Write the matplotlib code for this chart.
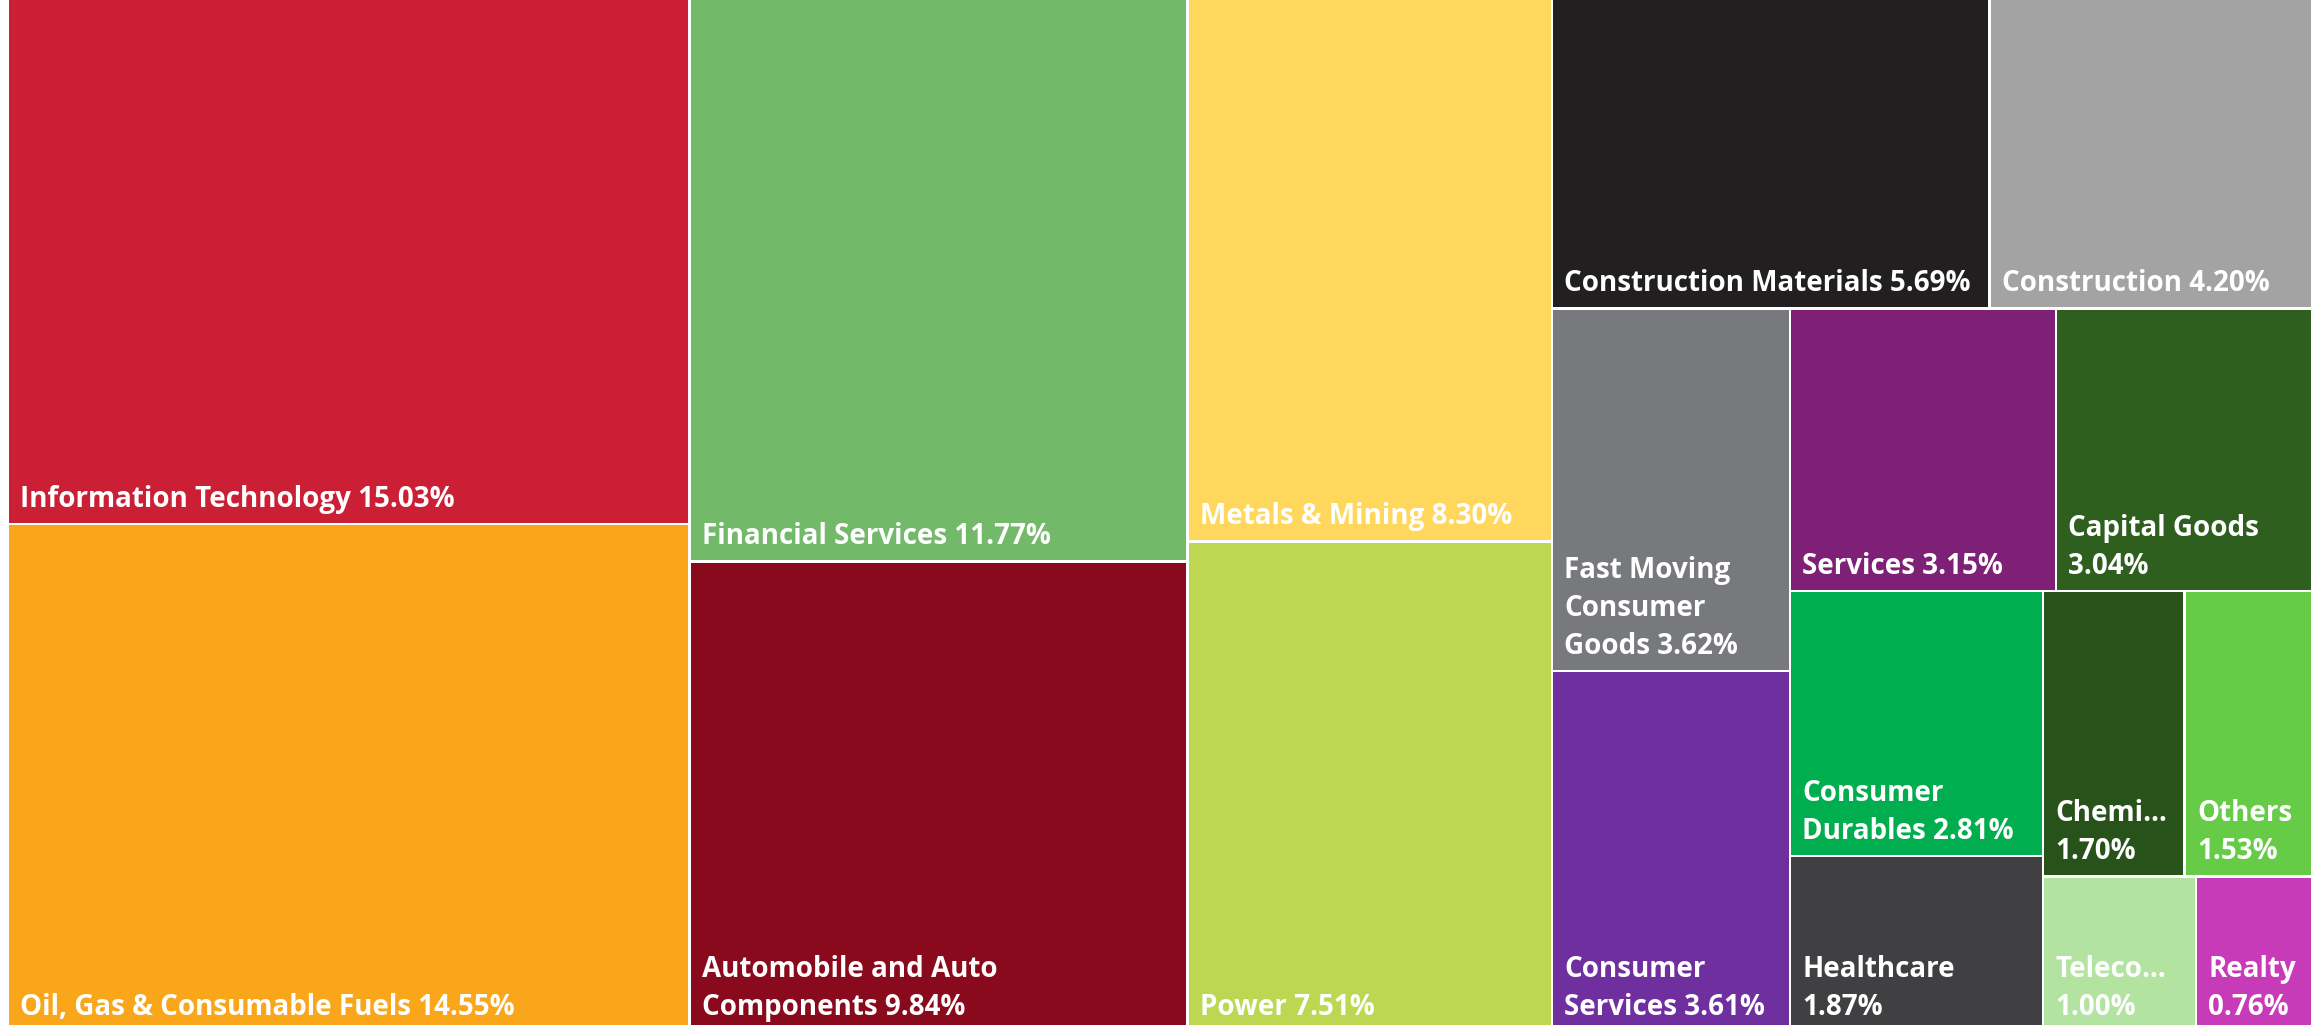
import matplotlib
matplotlib.use("Agg")
import matplotlib.pyplot as plt
from matplotlib.patches import Rectangle
from matplotlib.font_manager import FontProperties

# sector weights (%), sorted largest first
sectors = ["Information Technology", "Oil, Gas & Consumable Fuels", "Financial Services",
           "Automobile and Auto Components", "Metals & Mining", "Power",
           "Construction Materials", "Construction", "Fast Moving Consumer Goods",
           "Consumer Services", "Services", "Capital Goods", "Consumer Durables",
           "Healthcare", "Chemicals", "Others", "Telecommunication", "Realty"]
weights = [15.03, 14.55, 11.77, 9.84, 8.30, 7.51, 5.69, 4.20, 3.62, 3.61,
           3.15, 3.04, 2.81, 1.87, 1.70, 1.53, 1.00, 0.76]
colors = ["#cb1f36", "#f9a61b", "#72b96a", "#880a1c", "#ffd75c", "#bed753",
          "#221f20", "#a3a3a3", "#78797c", "#6f2f9f", "#7f2077", "#2e5f1f",
          "#00ae4f", "#403f41", "#27521a", "#66cc47", "#b3e3a1", "#c73bb8"]

W, H = 2315, 1025
BOX_H = 1031  # the plot area runs a little past the bottom edge
GAP = 2.6
PAD_X = 11
BASE_OFF = 16
LINE_H = 38
font = FontProperties(family="Open Sans", weight="bold", size=20)


def worst(row, side):
    s = sum(row)
    return max(max(side * side * a / (s * s), s * s / (side * side * a)) for a in row)


def squarify(values, x, y, w, h):
    # squarified layout; a strip holds at least two cells, the last strip is cut along the long side
    scale = w * h / sum(values)
    areas = [v * scale for v in values]
    rects = []
    i = 0
    while i < len(areas):
        side = min(w, h)
        row = areas[i:i + 2]
        j = i + len(row)
        while j < len(areas) and worst(row + [areas[j]], side) <= worst(row, side):
            row.append(areas[j])
            j += 1
        if j == len(areas):
            if w >= h:
                cx = x
                for a in row:
                    rects.append((cx, y, a / h, h))
                    cx += a / h
            else:
                cy = y
                for a in row:
                    rects.append((x, cy, w, a / w))
                    cy += a / w
        elif w >= h:
            t = sum(row) / h
            cy = y
            for a in row:
                rects.append((x, cy, t, a / t))
                cy += a / t
            x += t
            w -= t
        else:
            t = sum(row) / w
            cx = x
            for a in row:
                rects.append((cx, y, a / t, t))
                cx += a / t
            y += t
            h -= t
        i = j
    return rects


fig = plt.figure(figsize=(W / 100, H / 100), dpi=100)
ax = fig.add_axes([0, 0, 1, 1])
ax.set_xlim(0, W)
ax.set_ylim(H, 0)
ax.axis("off")
renderer = fig.canvas.get_renderer()


def text_w(s):
    return renderer.get_text_width_height_descent(s, font, ismath=False)[0]


def wrap(label, avail):
    lines = []
    cur = ""
    for word in label.split(" "):
        if text_w(word) > avail:
            k = len(word)
            while k > 1 and text_w(word[:k] + "…") > avail:
                k -= 1
            word = word[:k] + "…"
        cand = word if not cur else cur + " " + word
        if text_w(cand) <= avail or not cur:
            cur = cand
        else:
            lines.append(cur)
            cur = word
    lines.append(cur)
    return lines


rects = squarify(weights, 9 - GAP / 2, -GAP / 2, 2302 + GAP, BOX_H + GAP)
for (x, y, w, h), name, v, c in zip(rects, sectors, weights, colors):
    ax.add_patch(Rectangle((x + GAP / 2, y + GAP / 2), w - GAP, h - GAP,
                           facecolor=c, edgecolor="none"))
    lines = wrap(f"{name} {v:.2f}%", w - GAP - 2 * PAD_X)
    base = y + h - GAP / 2 - BASE_OFF
    for k, line in enumerate(reversed(lines)):
        ax.text(x + GAP / 2 + PAD_X, base - k * LINE_H, line, fontproperties=font,
                color="white", ha="left", va="baseline")

fig.savefig("out.png", dpi=100, facecolor="white")
